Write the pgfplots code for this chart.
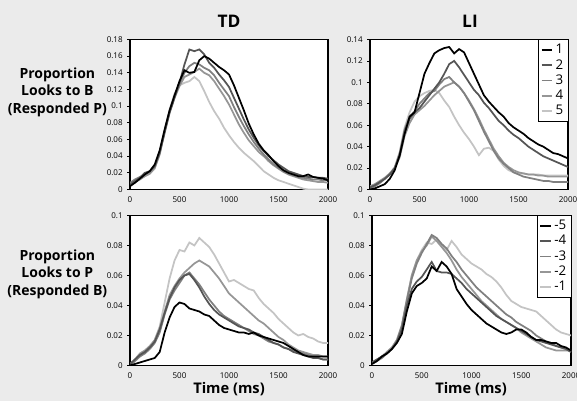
\documentclass[border=0pt]{standalone}
\usepackage{pgfplots}
\usepackage{pgfplotstable}
\pgfplotsset{compat=1.18}
\usepackage{fontspec}
\setmainfont{Open Sans}

\definecolor{bgc}{RGB}{235,235,235}
\definecolor{cA}{RGB}{0,0,0}
\definecolor{cB}{RGB}{85,85,85}
\definecolor{cC}{RGB}{128,128,128}
\definecolor{cD}{RGB}{150,150,150}
\definecolor{cE}{RGB}{196,196,196}

% TD, looks to B (responded P)
\pgfplotstableread{
t    s1    s2    s3    s4    s5
0    0.004 0.006 0.008 0.005 0.007
50   0.008 0.010 0.012 0.009 0.010
100  0.013 0.014 0.015 0.012 0.013
150  0.018 0.020 0.018 0.016 0.016
200  0.022 0.022 0.021 0.019 0.019
250  0.030 0.028 0.027 0.026 0.025
300  0.047 0.044 0.045 0.042 0.043
350  0.072 0.068 0.070 0.070 0.072
400  0.095 0.092 0.094 0.093 0.096
450  0.113 0.110 0.112 0.110 0.115
500  0.130 0.128 0.127 0.124 0.125
550  0.143 0.150 0.140 0.135 0.128
600  0.140 0.168 0.148 0.138 0.130
650  0.141 0.166 0.152 0.141 0.135
700  0.155 0.168 0.150 0.145 0.130
750  0.160 0.162 0.146 0.140 0.118
800  0.157 0.152 0.143 0.137 0.105
850  0.152 0.146 0.137 0.130 0.094
900  0.147 0.138 0.128 0.121 0.085
950  0.143 0.131 0.120 0.112 0.074
1000 0.138 0.123 0.112 0.102 0.065
1050 0.125 0.110 0.099 0.090 0.057
1100 0.110 0.097 0.087 0.078 0.050
1150 0.095 0.084 0.076 0.068 0.044
1200 0.079 0.072 0.066 0.059 0.039
1250 0.066 0.062 0.057 0.052 0.034
1300 0.055 0.053 0.049 0.045 0.028
1350 0.047 0.046 0.042 0.040 0.022
1400 0.041 0.040 0.036 0.034 0.018
1450 0.034 0.035 0.030 0.029 0.014
1500 0.028 0.030 0.026 0.025 0.011
1550 0.023 0.026 0.022 0.021 0.009
1600 0.020 0.022 0.019 0.018 0.007
1650 0.018 0.020 0.017 0.016 0.005
1700 0.016 0.018 0.015 0.014 0.003
1750 0.016 0.016 0.014 0.012 0.001
1800 0.018 0.015 0.013 0.011 0.000
1850 0.015 0.015 0.012 0.010 0.000
1900 0.014 0.014 0.012 0.009 0.000
1950 0.013 0.014 0.011 0.009 0.000
2000 0.011 0.013 0.011 0.008 0.000
}\tdtop

% LI, looks to B (responded P)
\pgfplotstableread{
t    s1    s2    s3    s4    s5
0    0.000 0.002 0.001 0.003 0.002
50   0.001 0.004 0.003 0.005 0.004
100  0.003 0.007 0.006 0.008 0.007
150  0.005 0.010 0.010 0.011 0.010
200  0.010 0.014 0.014 0.015 0.015
250  0.018 0.020 0.020 0.020 0.021
300  0.032 0.032 0.034 0.030 0.035
350  0.052 0.054 0.056 0.050 0.058
400  0.068 0.066 0.068 0.062 0.072
450  0.072 0.072 0.073 0.070 0.082
500  0.090 0.076 0.080 0.074 0.087
550  0.108 0.082 0.085 0.078 0.090
600  0.118 0.088 0.090 0.083 0.092
650  0.127 0.094 0.092 0.088 0.093
700  0.130 0.100 0.098 0.092 0.090
750  0.132 0.108 0.103 0.096 0.083
800  0.133 0.117 0.105 0.098 0.077
850  0.127 0.120 0.100 0.100 0.068
900  0.131 0.114 0.096 0.096 0.060
950  0.128 0.107 0.090 0.090 0.053
1000 0.118 0.100 0.082 0.083 0.047
1050 0.108 0.093 0.074 0.075 0.040
1100 0.098 0.088 0.064 0.066 0.032
1150 0.088 0.081 0.054 0.056 0.038
1200 0.082 0.076 0.045 0.047 0.039
1250 0.077 0.070 0.036 0.038 0.036
1300 0.072 0.064 0.029 0.031 0.028
1350 0.068 0.060 0.024 0.025 0.022
1400 0.062 0.055 0.020 0.021 0.018
1450 0.058 0.051 0.016 0.018 0.016
1500 0.055 0.048 0.014 0.016 0.015
1550 0.052 0.044 0.012 0.015 0.015
1600 0.048 0.040 0.011 0.014 0.014
1650 0.045 0.037 0.010 0.014 0.014
1700 0.042 0.034 0.009 0.013 0.014
1750 0.040 0.031 0.008 0.013 0.013
1800 0.037 0.029 0.008 0.012 0.013
1850 0.034 0.027 0.007 0.012 0.013
1900 0.033 0.025 0.007 0.012 0.013
1950 0.031 0.023 0.007 0.012 0.013
2000 0.029 0.021 0.007 0.012 0.013
}\litop

% TD, looks to P (responded B); columns -5 -4 -3 -2 -1
\pgfplotstableread{
t    s1    s2    s3    s4    s5
0    0.000 0.001 0.000 0.001 0.000
50   0.001 0.004 0.003 0.004 0.003
100  0.002 0.007 0.006 0.008 0.006
150  0.003 0.009 0.008 0.010 0.009
200  0.004 0.012 0.011 0.013 0.012
250  0.005 0.016 0.015 0.017 0.017
300  0.009 0.024 0.022 0.025 0.026
350  0.022 0.035 0.034 0.036 0.042
400  0.032 0.045 0.044 0.047 0.058
450  0.039 0.052 0.050 0.053 0.070
500  0.042 0.057 0.055 0.058 0.077
550  0.041 0.060 0.060 0.062 0.076
600  0.038 0.061 0.062 0.065 0.082
650  0.037 0.057 0.058 0.068 0.080
700  0.036 0.052 0.054 0.070 0.085
750  0.034 0.046 0.049 0.068 0.082
800  0.033 0.041 0.044 0.066 0.079
850  0.030 0.037 0.040 0.062 0.074
900  0.027 0.034 0.036 0.058 0.068
950  0.025 0.032 0.033 0.053 0.062
1000 0.024 0.030 0.031 0.048 0.056
1050 0.023 0.028 0.029 0.045 0.057
1100 0.022 0.026 0.027 0.042 0.055
1150 0.022 0.025 0.025 0.039 0.053
1200 0.021 0.024 0.023 0.036 0.051
1250 0.022 0.022 0.021 0.033 0.050
1300 0.020 0.021 0.020 0.030 0.045
1350 0.019 0.019 0.018 0.028 0.041
1400 0.018 0.017 0.016 0.025 0.038
1450 0.017 0.015 0.015 0.022 0.035
1500 0.016 0.014 0.014 0.019 0.031
1550 0.015 0.012 0.012 0.017 0.028
1600 0.013 0.011 0.011 0.014 0.025
1650 0.011 0.009 0.010 0.012 0.022
1700 0.009 0.008 0.009 0.010 0.020
1750 0.007 0.007 0.008 0.009 0.021
1800 0.006 0.006 0.007 0.008 0.019
1850 0.006 0.005 0.006 0.007 0.018
1900 0.006 0.005 0.005 0.007 0.016
1950 0.006 0.004 0.004 0.006 0.015
2000 0.006 0.004 0.004 0.006 0.015
}\tdbot

% LI, looks to P (responded B); columns -5 -4 -3 -2 -1
\pgfplotstableread{
t    s1    s2    s3    s4    s5
0    0.001 0.002 0.001 0.002 0.001
50   0.003 0.004 0.003 0.004 0.003
100  0.006 0.006 0.005 0.006 0.006
150  0.008 0.008 0.008 0.009 0.009
200  0.011 0.011 0.011 0.012 0.012
250  0.015 0.016 0.016 0.017 0.017
300  0.021 0.024 0.026 0.027 0.026
350  0.036 0.040 0.043 0.044 0.044
400  0.048 0.051 0.058 0.060 0.060
450  0.053 0.056 0.068 0.070 0.070
500  0.055 0.059 0.075 0.076 0.077
550  0.058 0.064 0.081 0.080 0.082
600  0.066 0.069 0.087 0.086 0.081
650  0.063 0.063 0.085 0.083 0.084
700  0.069 0.062 0.081 0.079 0.080
750  0.066 0.062 0.078 0.075 0.077
800  0.061 0.061 0.073 0.070 0.083
850  0.051 0.058 0.069 0.064 0.079
900  0.046 0.055 0.064 0.059 0.074
950  0.041 0.051 0.060 0.055 0.071
1000 0.037 0.048 0.056 0.051 0.068
1050 0.034 0.045 0.052 0.047 0.066
1100 0.031 0.042 0.049 0.043 0.064
1150 0.028 0.039 0.046 0.040 0.061
1200 0.026 0.036 0.043 0.037 0.059
1250 0.024 0.033 0.040 0.034 0.056
1300 0.022 0.031 0.037 0.031 0.052
1350 0.021 0.029 0.034 0.029 0.047
1400 0.022 0.027 0.032 0.027 0.043
1450 0.024 0.025 0.029 0.025 0.041
1500 0.024 0.023 0.027 0.022 0.039
1550 0.022 0.021 0.025 0.020 0.038
1600 0.019 0.019 0.023 0.018 0.037
1650 0.017 0.017 0.020 0.016 0.036
1700 0.017 0.016 0.018 0.014 0.033
1750 0.016 0.015 0.016 0.012 0.030
1800 0.015 0.014 0.015 0.011 0.027
1850 0.015 0.013 0.013 0.010 0.024
1900 0.013 0.012 0.012 0.010 0.022
1950 0.012 0.011 0.011 0.010 0.021
2000 0.010 0.009 0.009 0.010 0.020
}\libot

\pgfplotsset{
  panel/.style={
    scale only axis, width=148.5pt, height=112.5pt,
    anchor=north west,
    xmin=0, xmax=2000, ymin=0,
    xtick={0,500,1000,1500,2000},
    axis background/.style={fill=white},
    axis line style={line width=0.8pt},
    tick align=outside, tick pos=left,
    major tick length=2pt,
    tick style={black, line width=0.5pt},
    ticklabel style={font=\fontsize{6}{7}\selectfont},
    /pgf/number format/assume math mode=true,
    /pgf/number format/fixed,
    /pgf/number format/1000 sep={},
    scaled y ticks=false,
    xtick style={draw=none},
    every axis plot/.append style={line width=1.3pt, no markers},
    legend cell align=left,
    legend style={at={(1,1)}, anchor=north east, draw=black, line width=0.6pt,
      fill=white, font=\fontsize{10}{11}\selectfont, inner sep=1.5pt,
      row sep=-1.2pt, outer sep=0pt},
    legend image code/.code={\draw[##1] (0pt,0pt) -- (8pt,0pt);},
  },
}

\begin{document}
\begin{tikzpicture}
\useasboundingbox (0,0) rectangle (432.75pt,-300.75pt);
\clip (0,0) rectangle (432.75pt,-300.75pt);
\fill[bgc] (0,0) rectangle (432.75pt,-300.75pt);

\begin{axis}[panel, at={(97.5pt,-29.6pt)}, ymax=0.18,
  ytick={0,0.02,...,0.18}]
\addplot[cE] table[x=t, y=s5] {\tdtop};
\addplot[cD] table[x=t, y=s4] {\tdtop};
\addplot[cC] table[x=t, y=s3] {\tdtop};
\addplot[cB] table[x=t, y=s2] {\tdtop};
\addplot[cA] table[x=t, y=s1] {\tdtop};
\end{axis}

\begin{axis}[panel, at={(277.5pt,-29.6pt)}, ymax=0.14,
  ytick={0,0.02,...,0.14}, reverse legend]
\addplot[cE] table[x=t, y=s5] {\litop};
\addplot[cD] table[x=t, y=s4] {\litop};
\addplot[cC] table[x=t, y=s3] {\litop};
\addplot[cB] table[x=t, y=s2] {\litop};
\addplot[cA] table[x=t, y=s1] {\litop};
\legend{5,4,3,2,1}
\end{axis}

\begin{axis}[panel, at={(97.5pt,-161.6pt)}, ymax=0.1,
  ytick={0,0.02,...,0.1}]
\addplot[cE] table[x=t, y=s5] {\tdbot};
\addplot[cD] table[x=t, y=s4] {\tdbot};
\addplot[cC] table[x=t, y=s3] {\tdbot};
\addplot[cB] table[x=t, y=s2] {\tdbot};
\addplot[cA] table[x=t, y=s1] {\tdbot};
\end{axis}

\begin{axis}[panel, at={(279pt,-161.6pt)}, width=149.25pt, ymax=0.1,
  ytick={0,0.02,...,0.1}, reverse legend]
\addplot[cE] table[x=t, y=s5] {\libot};
\addplot[cD] table[x=t, y=s4] {\libot};
\addplot[cC] table[x=t, y=s3] {\libot};
\addplot[cB] table[x=t, y=s2] {\libot};
\addplot[cA] table[x=t, y=s1] {\libot};
\legend{-1,-2,-3,-4,-5}
\end{axis}

\node[font=\bfseries\fontsize{13}{14}\selectfont] at (171.75pt,-16pt) {TD};
\node[font=\bfseries\fontsize{13}{14}\selectfont] at (352.5pt,-16pt) {LI};
\node[font=\bfseries\fontsize{10.5}{13.2}\selectfont, align=center] at (43pt,-69pt)
  {Proportion\\Looks to B\\(Responded P)};
\node[font=\bfseries\fontsize{10.5}{13.2}\selectfont, align=center] at (43pt,-205.5pt)
  {Proportion\\Looks to P\\(Responded B)};
\node[font=\bfseries\fontsize{11}{12}\selectfont] at (171.75pt,-291.75pt) {Time (ms)};
\node[font=\bfseries\fontsize{11}{12}\selectfont] at (353.25pt,-291.75pt) {Time (ms)};
\end{tikzpicture}
\end{document}
